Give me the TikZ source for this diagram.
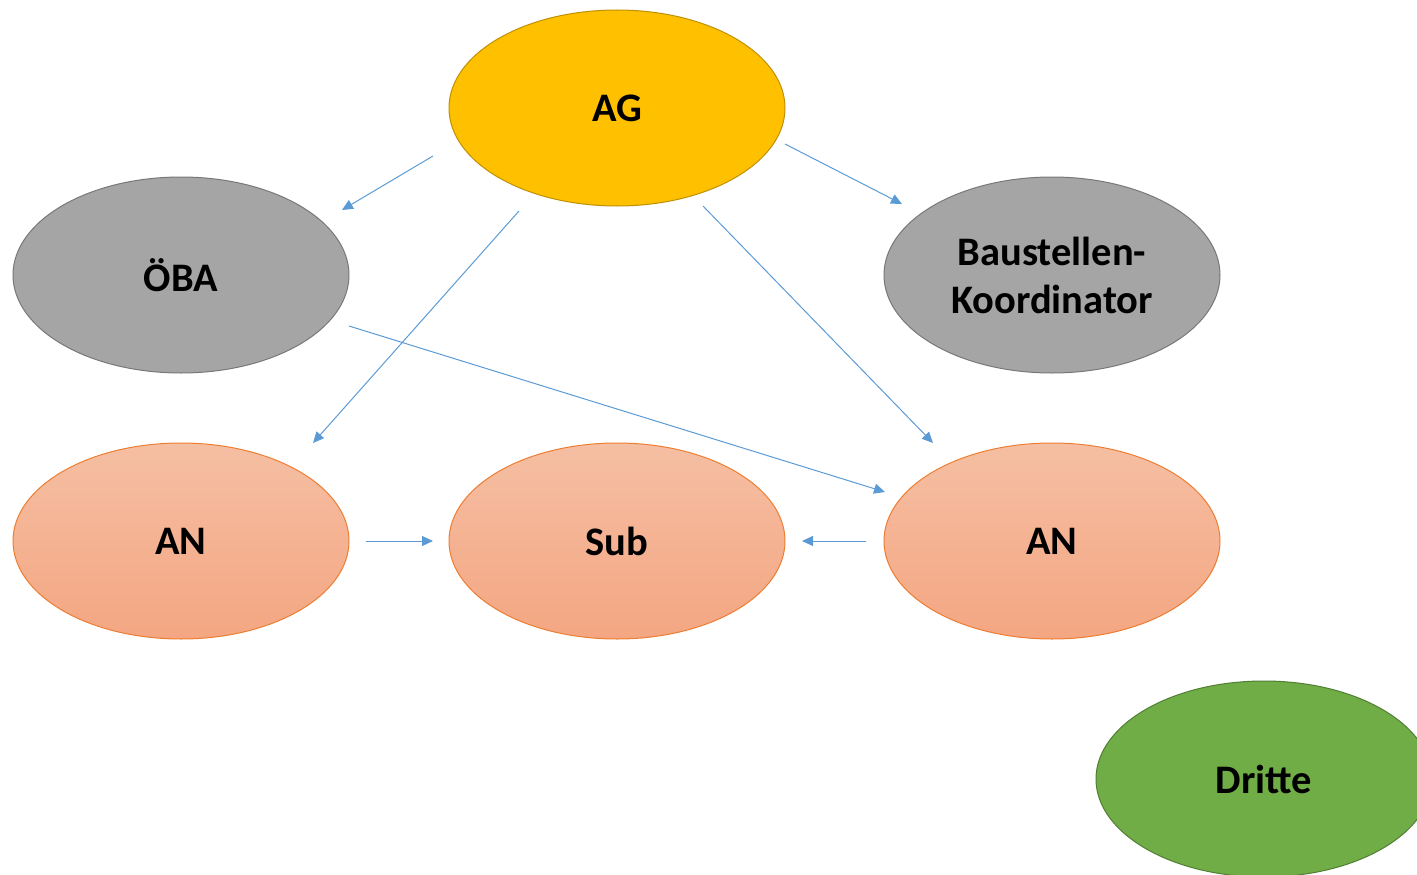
\documentclass[tikz,border=0pt]{standalone}
\usepackage{fontspec}
\setmainfont{Carlito}
\usetikzlibrary{shapes.geometric,arrows.meta}

\definecolor{agfill}{HTML}{FFC000}
\definecolor{agline}{HTML}{BF9000}
\definecolor{greyfill}{HTML}{A5A5A5}
\definecolor{greyline}{HTML}{787878}
\definecolor{antop}{HTML}{F5BFA3}
\definecolor{anbot}{HTML}{F4A682}
\definecolor{anline}{HTML}{ED7D31}
\definecolor{drfill}{HTML}{70AD47}
\definecolor{drline}{HTML}{507E32}
\definecolor{arrblue}{HTML}{5B9BD5}

\begin{document}
\begin{tikzpicture}[x=1pt,y=-1pt,
	party/.style={ellipse,minimum width=336pt,minimum height=196pt,inner sep=0pt,
		line width=1pt,align=center,
		font=\fontsize{40.5}{48}\selectfont\bfseries},
	link/.style={draw=arrblue,line width=1pt,-{Triangle[length=11pt,width=10pt]}}]
	\useasboundingbox (0,0) rectangle (1417,875);
	% parties
	\node[party,fill=agfill,draw=agline] (AG) at (617,108) {AG};
	\node[party,fill=greyfill,draw=greyline] (OEBA) at (181,275) {ÖBA};
	\node[party,fill=greyfill,draw=greyline] (BK) at (1052,275) {Baustellen-\\Koordinator};
	\node[party,top color=antop,bottom color=anbot,draw=anline] (AN1) at (181,541) {AN};
	\node[party,top color=antop,bottom color=anbot,draw=anline] (Sub) at (617,541) {Sub};
	\node[party,top color=antop,bottom color=anbot,draw=anline] (AN2) at (1052,541) {AN};
	\node[party,fill=drfill,draw=drline] (Dritte) at (1264,779) {Dritte};
	% arrow ends
	\coordinate (ag1) at (433,156);
	\coordinate (oeba1) at (342,210);
	\coordinate (ag2) at (785,144);
	\coordinate (bk1) at (902,204);
	\coordinate (ag3) at (519,211);
	\coordinate (an11) at (313,443);
	\coordinate (ag4) at (703,206);
	\coordinate (an21) at (933,443);
	\coordinate (oeba2) at (349,326);
	\coordinate (an22) at (885,492);
	\coordinate (an12) at (366,541);
	\coordinate (sub1) at (433,541);
	\coordinate (an23) at (866,541);
	\coordinate (sub2) at (802,541);
	% arrows
	\draw[link] (ag1) -- (oeba1);
	\draw[link] (ag2) -- (bk1);
	\draw[link] (ag3) -- (an11);
	\draw[link] (ag4) -- (an21);
	\draw[link] (oeba2) -- (an22);
	\draw[link] (an12) -- (sub1);
	\draw[link] (an23) -- (sub2);
\end{tikzpicture}
\end{document}
